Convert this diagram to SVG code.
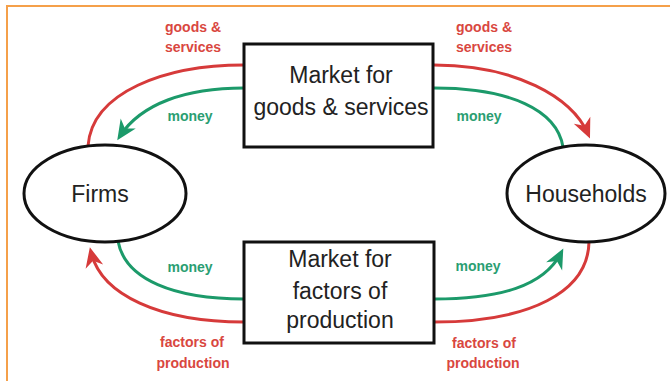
<svg xmlns="http://www.w3.org/2000/svg" width="670" height="381" viewBox="0 0 670 381">
<style>
.frame{fill:none;stroke:#F5A04A;stroke-width:2}
.box{fill:#fff;stroke:#111;stroke-width:3}
.ell{fill:#fff;stroke:#111;stroke-width:3}
.main{font-family:"Liberation Sans",Arial,sans-serif;font-size:23px;fill:#222;text-anchor:middle}
.lbl{font-family:"Liberation Sans",Arial,sans-serif;font-size:14px;font-weight:bold;text-anchor:middle}
.lr{fill:#D9473F}
.lg{fill:#2A9E72}
.cr{fill:none;stroke:#D63A3A;stroke-width:3}
.cg{fill:none;stroke:#1C9A6A;stroke-width:3}
</style>
<defs>
<marker id="arR" viewBox="-17 -10 24 20" refX="0" refY="0" markerWidth="24" markerHeight="20" markerUnits="userSpaceOnUse" orient="auto">
<path d="M5,0 L-15,-9 L-9,0 L-15,9 Z" fill="#D63A3A"/>
</marker>
<marker id="arG" viewBox="-17 -10 24 20" refX="0" refY="0" markerWidth="24" markerHeight="20" markerUnits="userSpaceOnUse" orient="auto">
<path d="M5,0 L-15,-9 L-9,0 L-15,9 Z" fill="#1C9A6A"/>
</marker>
</defs>
<rect width="670" height="381" fill="#fff"/>
<rect class="frame" x="7" y="6" width="700" height="420"/>
<g id="connectors">
<path class="cr" d="M244,65 C165,65 92,92 88,146"/>
<path class="cg" d="M244,88 C185,88 141,104 120,136" marker-end="url(#arG)"/>
<path class="cr" d="M434,65 C515,65 572,97 588,134" marker-end="url(#arR)"/>
<path class="cg" d="M434,88 C510,88 557,110 563,147"/>
<path class="cg" d="M118,241 C125,280 175,299 244,299"/>
<path class="cr" d="M244,322 C160,322 101,295 91,252" marker-end="url(#arR)"/>
<path class="cg" d="M434,299 C500,299 544,286 561,253" marker-end="url(#arG)"/>
<path class="cr" d="M434,322 C530,322 588,292 589,242"/>
</g>
<g id="labels">
<text class="lbl lr" x="193" y="32">goods &amp;</text>
<text class="lbl lr" x="193" y="52">services</text>
<text class="lbl lr" x="484" y="32">goods &amp;</text>
<text class="lbl lr" x="484" y="52">services</text>
<text class="lbl lg" x="190" y="121">money</text>
<text class="lbl lg" x="479" y="121">money</text>
<text class="lbl lg" x="190" y="272">money</text>
<text class="lbl lg" x="478" y="271">money</text>
<text class="lbl lr" x="192" y="347">factors of</text>
<text class="lbl lr" x="193" y="368">production</text>
<text class="lbl lr" x="484" y="348">factors of</text>
<text class="lbl lr" x="483" y="368">production</text>
</g>
<g id="market-goods">
<rect class="box" x="244" y="44" width="189" height="103"/>
<text class="main" x="341" y="83">Market for</text>
<text class="main" x="341" y="115">goods &amp; services</text>
</g>
<g id="market-factors">
<rect class="box" x="244" y="242" width="190" height="101"/>
<text class="main" x="340" y="267">Market for</text>
<text class="main" x="340" y="299">factors of</text>
<text class="main" x="340" y="328">production</text>
</g>
<g id="firms">
<ellipse class="ell" cx="105" cy="193.5" rx="81" ry="48.5"/>
<text class="main" x="100" y="202">Firms</text>
</g>
<g id="households">
<ellipse class="ell" cx="586" cy="193.5" rx="79" ry="48.5"/>
<text class="main" x="586" y="202">Households</text>
</g>
</svg>
